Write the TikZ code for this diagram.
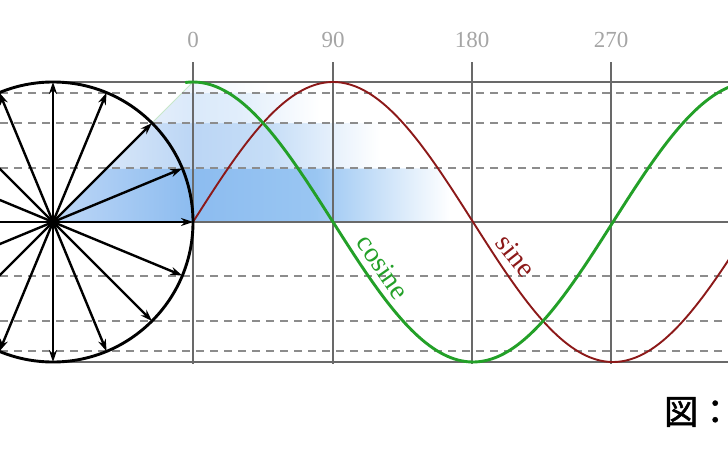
\documentclass[tikz,border=0pt]{standalone}
\usepackage{fontspec}
\setmainfont{Liberation Serif}
\newfontfamily\cjk[FakeBold=1.5]{Noto Sans CJK JP}
\usetikzlibrary{arrows.meta}
\definecolor{cosg}{RGB}{35,160,40}
\definecolor{sinr}{RGB}{140,25,25}
\definecolor{gridgray}{RGB}{105,105,105}
\definecolor{dashgray}{RGB}{140,140,140}
\definecolor{labgray}{RGB}{165,165,165}
\pgfdeclarehorizontalshading{bandA}{100bp}{rgb(0bp)=(0.745,0.843,0.965); rgb(25bp)=(0.745,0.843,0.965); rgb(42.6bp)=(0.55,0.737,0.94); rgb(58bp)=(0.6,0.775,0.95); rgb(75bp)=(1,1,1); rgb(100bp)=(1,1,1)}
\pgfdeclarehorizontalshading{bandB}{100bp}{rgb(0bp)=(0.843,0.902,0.973); rgb(25bp)=(0.843,0.902,0.973); rgb(40.8bp)=(0.735,0.838,0.96); rgb(55bp)=(0.775,0.868,0.968); rgb(75bp)=(1,1,1); rgb(100bp)=(1,1,1)}
\pgfdeclarehorizontalshading{bandC}{100bp}{rgb(0bp)=(0.894,0.933,0.98); rgb(25bp)=(0.894,0.933,0.98); rgb(37bp)=(0.855,0.915,0.98); rgb(50bp)=(0.88,0.93,0.984); rgb(75bp)=(1,1,1); rgb(100bp)=(1,1,1)}
\pgfdeclarehorizontalshading{bandD}{100bp}{rgb(0bp)=(0.925,0.953,0.988); rgb(25bp)=(0.925,0.953,0.988); rgb(75bp)=(1,1,1); rgb(100bp)=(1,1,1)}
\begin{document}
\begin{tikzpicture}[x=1pt,y=1pt,
  grid/.style={draw=gridgray, line width=2pt},
  dashline/.style={draw=dashgray, line width=1.9pt, dash pattern=on 8pt off 6pt},
  vec/.style={draw=black, line width=2.4pt, -{Stealth[length=12pt,width=8pt]}},
  lab/.style={text=labgray, font=\fontsize{23}{25}\selectfont, inner sep=0pt},
  curvelab/.style={font=\fontsize{28}{30}\selectfont, inner sep=0pt}
]
\useasboundingbox (0,0) rectangle (728,-455);
\clip (0,0) rectangle (728,-455);
\coordinate (O) at (53,-222);
% shaded bands
\shade[shading=bandA]
  (O) -- (106.6,-168.4) -- (450,-168.4) -- (450,-222) -- cycle;
\shade[shading=bandB]
  (106.6,-168.4) -- (152,-123) -- (380,-123) -- (380,-168.4) -- cycle;
\shade[shading=bandC]
  (152,-123) -- (182.3,-92.7) -- (320,-92.7) -- (320,-123) -- cycle;
\shade[shading=bandD]
  (182.3,-92.7) -- (193,-82) -- (270,-82) -- (270,-92.7) -- cycle;
\draw[cosg!25, line width=0.8pt] (O) -- (193,-82);
% dashed levels
\foreach \h in {53.6,99,129.3} {
  \draw[dashline] (0,{-222+\h}) -- (728,{-222+\h});
  \draw[dashline] (0,{-222-\h}) -- (728,{-222-\h});
}
% grid
\foreach \x/\l in {193/0,333/90,472/180,611/270} {
  \draw[grid] (\x,-62) -- (\x,-364);
  \node[lab] (l\l) at (\x,-40) {\l};
}
\draw[grid] (O) -- (728,-222);
\draw[grid] (53,-82) -- (728,-82);
\draw[grid] (53,-362) -- (728,-362);
% curves
\draw[sinr, line width=1.9pt] plot[domain=0:352, samples=160, smooth]
  ({193+\x*1.5556}, {-222+140*sin(\x)});
\draw[cosg, line width=2.9pt] plot[domain=-5:352, samples=160, smooth]
  ({193+\x*1.5556}, {-222+140*cos(\x)});
% circle and vectors
\draw[line width=2.9pt] (O) circle[radius=140];
\foreach \i in {0,...,15} {
  \path (O) ++(\i*22.5:140) coordinate (p\i);
  \draw[vec] (O) -- (p\i);
}
% labels
\node[curvelab, text=cosg, rotate=-55] (cos) at (383,-267) {cosine};
\node[curvelab, text=sinr, rotate=-52] (sin) at (516,-256) {sine};
\node[font=\fontsize{34}{36}\selectfont\cjk, anchor=west, inner sep=0pt] (fig) at (664,-412) {図：};
\end{tikzpicture}
\end{document}
